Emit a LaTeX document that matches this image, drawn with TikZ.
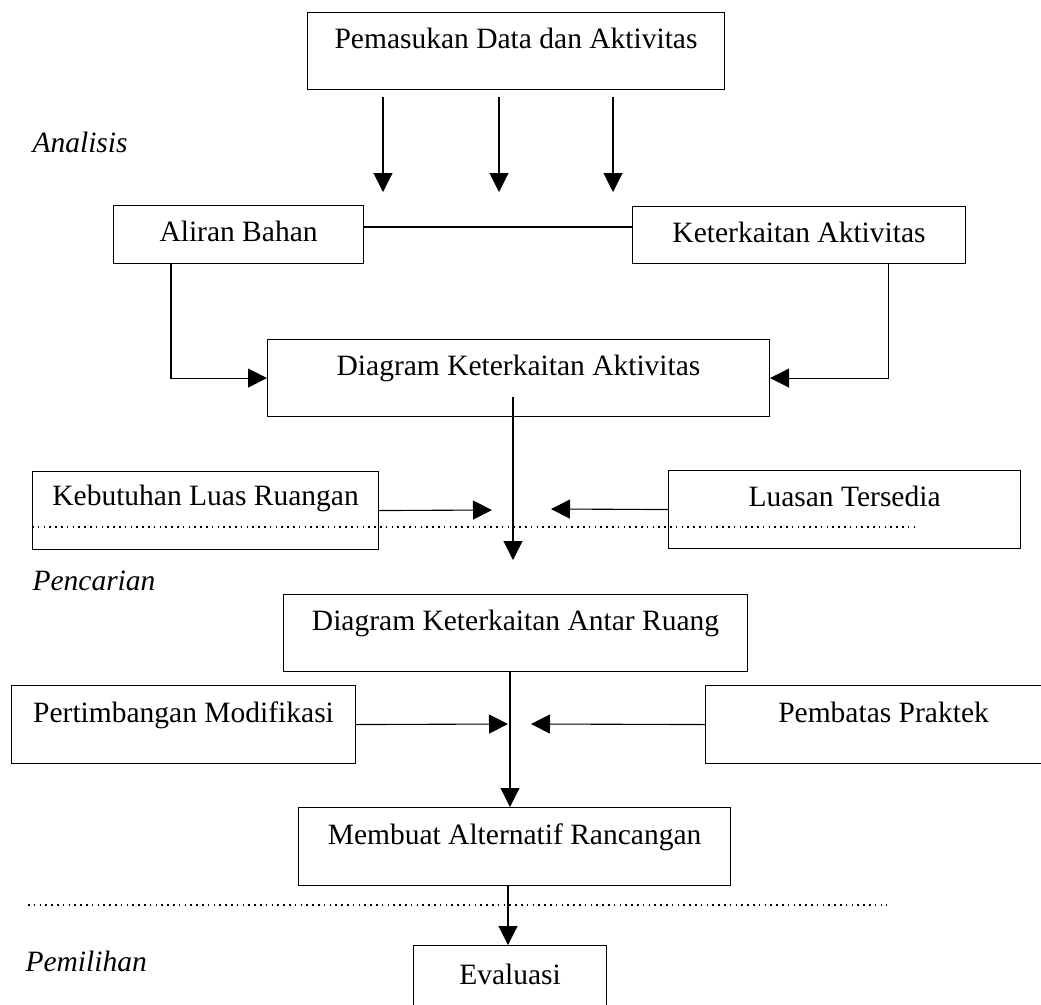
\documentclass[tikz,border=0pt]{standalone}
\usepackage{fontspec}
\setmainfont{Liberation Serif}
\usetikzlibrary{arrows.meta}
\begin{document}
\begin{tikzpicture}[x=1pt,y=-1pt,
  line width=1.1pt,
  bx/.style={draw, anchor=north west, inner sep=0pt, font=\fontsize{29.5pt}{35pt}\selectfont},
  lbl/.style={anchor=base west, inner sep=0pt, font=\fontsize{29.5pt}{35pt}\selectfont\itshape},
  arr/.style={-{Triangle[length=19pt,width=19pt]}},
  dots/.style={line width=1.6pt, dash pattern=on 1.6pt off 4.2pt}
]
\useasboundingbox (0,0) rectangle (1041,1004);
\clip (0,0) rectangle (1041,1004);

% boxes
\node[bx, minimum width=417pt, text height=36pt, text depth=41pt] (top) at (307,12) {Pemasukan Data dan Aktivitas};
\node[bx, minimum width=250pt, text height=36pt, text depth=22pt] (al) at (113,205) {Aliran Bahan};
\node[bx, minimum width=333pt, text height=36pt, text depth=21pt] (kt) at (632,206) {Keterkaitan Aktivitas};
\node[bx, minimum width=502pt, text height=36pt, text depth=41pt] (dka) at (267,339) {Diagram Keterkaitan Aktivitas};
\node[bx, minimum width=346pt, text height=34pt, text depth=44pt] (keb) at (32,471) {Kebutuhan Luas Ruangan};
\node[bx, minimum width=352pt, text height=36pt, text depth=42pt] (lt) at (668,470) {Luasan Tersedia};
\node[bx, minimum width=464pt, text height=36pt, text depth=41pt] (dkar) at (283,594) {Diagram Keterkaitan Antar Ruang};
\node[bx, minimum width=344pt, text height=37pt, text depth=41pt] (pm) at (11,685) {Pertimbangan Modifikasi};
\node[bx, minimum width=356pt, text height=37pt, text depth=41pt] (pp) at (705,685) {Pembatas Praktek};
\node[bx, minimum width=432pt, text height=37pt, text depth=41pt] (mem) at (298,807) {Membuat Alternatif Rancangan};
\node[bx, minimum width=193pt, text height=39pt, text depth=39pt] (ev) at (413,945) {Evaluasi};

% stage labels
\node[lbl] (lan) at (32,152) {Analisis};
\node[lbl] (lpe) at (32,590) {Pencarian};
\node[lbl] (lpm) at (25,971) {Pemilihan};

% helper coordinates
\coordinate (a1s) at (383,97);  \coordinate (a1e) at (383,192);
\coordinate (a2s) at (499,97);  \coordinate (a2e) at (499,192);
\coordinate (a3s) at (613,97);  \coordinate (a3e) at (613,192);
\coordinate (yl) at (0,227);
\coordinate (d1) at (513,397);  \coordinate (d2) at (513,560);
\coordinate (k1) at (492,510);
\coordinate (l1) at (551,509);
\coordinate (dl1) at (32,527);  \coordinate (dl2) at (915,527);
\coordinate (vx) at (510,0);
\coordinate (pm1) at (508,724);
\coordinate (pp1) at (531,724);
\coordinate (ex) at (508,0);
\coordinate (dm1) at (28,905);  \coordinate (dm2) at (887,905);

% connectors
\draw[arr] (a1s) -- (a1e);
\draw[arr] (a2s) -- (a2e);
\draw[arr] (a3s) -- (a3e);
\draw (al.east |- yl) -- (kt.west |- yl);
\draw[arr] ([xshift=58pt]al.south west) |- (dka.west);
\draw[arr] ([xshift=-78pt]kt.south east) |- (dka.east);
\draw[arr] (d1) -- (d2);
\draw[arr] (keb.east) -- (k1);
\draw[arr] (lt.west) -- (l1);
\draw[dots] (dl1) -- (dl2);
\draw[arr] (dkar.south -| vx) -- (mem.north -| vx);
\draw[arr] (pm.east) -- (pm1);
\draw[arr] (pp.west) -- (pp1);
\draw[dots] (dm1) -- (dm2);
\draw[arr] (mem.south -| ex) -- (ev.north -| ex);
\end{tikzpicture}
\end{document}
